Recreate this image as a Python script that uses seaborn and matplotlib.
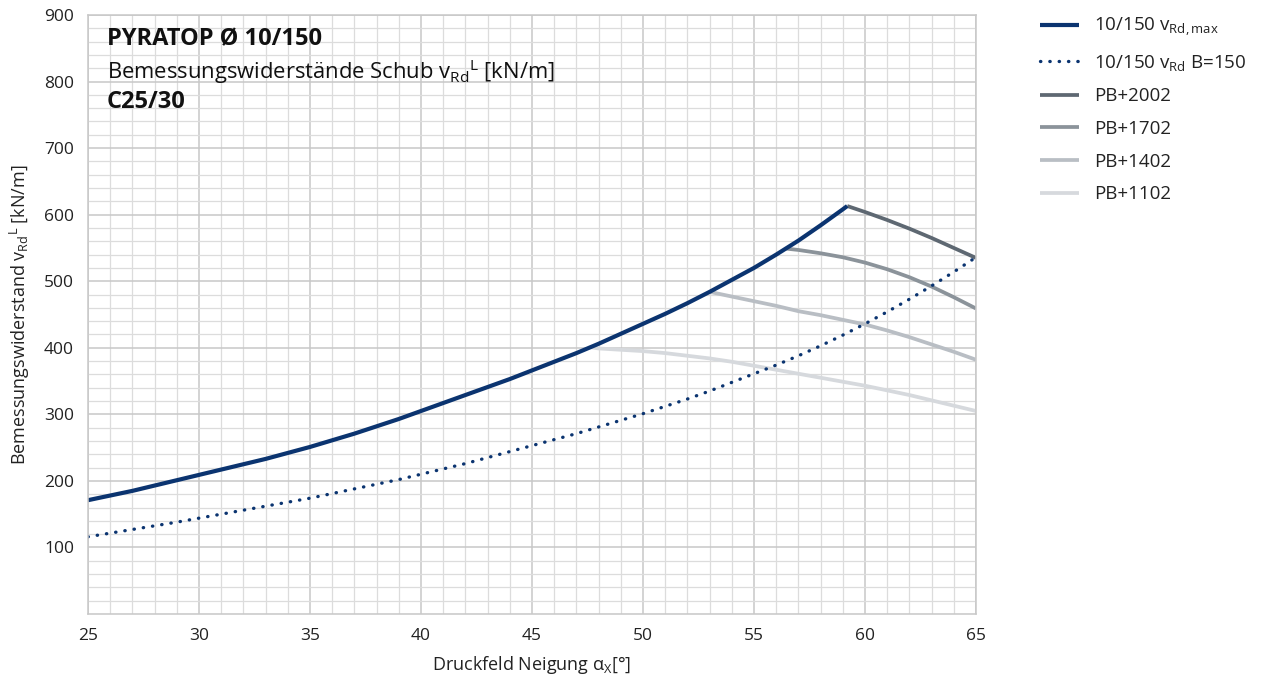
import numpy as np
import pandas as pd
import seaborn as sns
import matplotlib
matplotlib.use("Agg")
import matplotlib.pyplot as plt
from matplotlib.ticker import MultipleLocator

# ---- data ----
x_max = [25, 26, 27, 28, 29, 30, 31, 32, 33, 34, 35, 36, 37, 38, 39, 40, 41, 42, 43, 44,
         45, 46, 47, 48, 49, 50, 51, 52, 53, 54, 55, 56, 57, 58, 59, 59.2]
v_max = [171, 178, 185, 193, 201, 209, 217, 225, 233, 242, 251, 261, 271, 282, 293, 305, 317, 329, 341, 353,
         366, 379, 392, 406, 421, 436, 451, 467, 484, 502, 520, 540, 561, 584, 608, 613]

x_b150 = [25, 26, 27, 28, 29, 30, 31, 32, 33, 34, 35, 36, 37, 38, 39, 40, 41, 42, 43, 44, 45,
          46, 47, 48, 49, 50, 51, 52, 53, 54, 55, 56, 57, 58, 59, 60, 61, 62, 63, 64, 65]
v_b150 = [116, 121.5, 127, 132.5, 138, 144, 150, 156, 162, 168, 174, 181, 188, 195, 202, 210, 218, 226, 235, 244, 253,
          262, 271, 281, 291, 301, 312, 323, 335, 348, 361, 374, 388, 403, 419, 436, 454, 473, 493, 514, 536]

x_2002 = [59.2, 60, 61, 62, 63, 64, 65]
v_2002 = [613, 604, 592, 579, 565, 550, 535]

x_1702 = [56.45, 57, 58, 59, 60, 61, 62, 63, 64, 65]
v_1702 = [549, 547, 542, 536, 528, 518, 506, 492, 476, 459]

x_1402 = [53, 54, 55, 56, 57, 58, 59, 60, 61, 62, 63, 64, 65]
v_1402 = [484, 477, 470, 463, 455, 449, 442, 435, 426, 416, 405, 394, 382]

x_1102 = [47.6, 48, 49, 50, 51, 52, 53, 54, 55, 56, 57, 58, 59, 60, 61, 62, 63, 64, 65]
v_1102 = [401, 399, 397, 395, 392, 388, 384, 379, 373, 367, 361, 355, 349, 343, 336, 329, 321, 313, 305]

labels = ["10/150 v$_{\\mathrm{Rd,max}}$", "10/150 v$_{\\mathrm{Rd}}$ B=150",
          "PB+2002", "PB+1702", "PB+1402", "PB+1102"]
x_ticks = [25, 30, 35, 40, 45, 50, 55, 60, 65]
y_ticks = [100, 200, 300, 400, 500, 600, 700, 800, 900]

# ---- style ----
sns.set_theme(style="white")
plt.rcParams['font.family'] = ['Open Sans', 'DejaVu Sans']
plt.rcParams['mathtext.fontset'] = 'custom'
plt.rcParams['mathtext.rm'] = 'Open Sans'
plt.rcParams['mathtext.it'] = 'Open Sans:italic'
plt.rcParams['mathtext.bf'] = 'Open Sans:bold'

navy = "#0b3470"
colors = [navy, navy, "#5e6872", "#8b939a", "#b9bec4", "#d6d9dd"]

fig = plt.figure(figsize=(12.64, 6.8), dpi=100)
ax = fig.add_axes([88 / 1264, 1 - 614 / 680, (976 - 88) / 1264, (614 - 15) / 680])

series = [(x_max, v_max), (x_b150, v_b150), (x_2002, v_2002),
          (x_1702, v_1702), (x_1402, v_1402), (x_1102, v_1102)]
widths = [3.0, 2.4, 2.7, 2.7, 2.7, 2.7]

# gray lines first, then the blue ones on top
order = [5, 4, 3, 2, 1, 0]
for i in order:
    xs, ys = series[i]
    df = pd.DataFrame({"x": xs, "y": ys})
    kw = dict(color=colors[i], linewidth=widths[i], label=labels[i])
    if i == 1:
        kw.update(linestyle=(0, (0.1, 2.7)), dash_capstyle='round')
    else:
        kw.update(solid_capstyle='butt', solid_joinstyle='round')
    sns.lineplot(data=df, x="x", y="y", ax=ax, estimator=None, sort=False, **kw)

ax.set_xlim(25, 65)
ax.set_ylim(0, 900)
ax.set_xticks(x_ticks)
ax.set_yticks(y_ticks)
ax.xaxis.set_minor_locator(MultipleLocator(1))
ax.yaxis.set_minor_locator(MultipleLocator(20))
ax.grid(which='major', color="#c8c8c8", linewidth=1.1)
ax.grid(which='minor', color="#dcdcdc", linewidth=0.9)
ax.set_axisbelow(True)
for s in ax.spines.values():
    s.set_color("#c8c8c8")
    s.set_linewidth(1.1)
ax.tick_params(axis='both', which='both', length=0, labelsize=12.5, colors="#222222")
ax.tick_params(axis='x', pad=10)
ax.tick_params(axis='y', pad=10)

ax.set_xlabel("Druckfeld Neigung α$_{\\mathrm{X}}$[°]", fontsize=13, color="#222222", labelpad=7)
ax.set_ylabel("Bemessungswiderstand v$_{\\mathrm{Rd}}{}^{\\mathrm{L}}$ [kN/m]", fontsize=13,
              color="#222222", labelpad=9)

ax.text(0.021, 0.960, "PYRATOP Ø 10/150", transform=ax.transAxes, fontsize=17,
        fontweight='bold', color="#111111", va='center', ha='left')
ax.text(0.021, 0.906, "Bemessungswiderstände Schub v$_{\\mathrm{Rd}}{}^{\\mathrm{L}}$ [kN/m]",
        transform=ax.transAxes, fontsize=15.8, color="#111111", va='center', ha='left')
ax.text(0.021, 0.855, "C25/30", transform=ax.transAxes, fontsize=17,
        fontweight='bold', color="#111111", va='center', ha='left')

handles, labs = ax.get_legend_handles_labels()
hmap = dict(zip(labs, handles))
leg = ax.legend([hmap[l] for l in labels], labels, loc='upper left',
                bbox_to_anchor=(1032 / 1264, 1 - 8 / 680), bbox_transform=fig.transFigure,
                frameon=False, fontsize=13.5, handlelength=2.1, handletextpad=0.8,
                labelspacing=0.78, borderaxespad=0)
for t in leg.get_texts():
    t.set_color("#222222")

fig.savefig("out.png", dpi=100)
